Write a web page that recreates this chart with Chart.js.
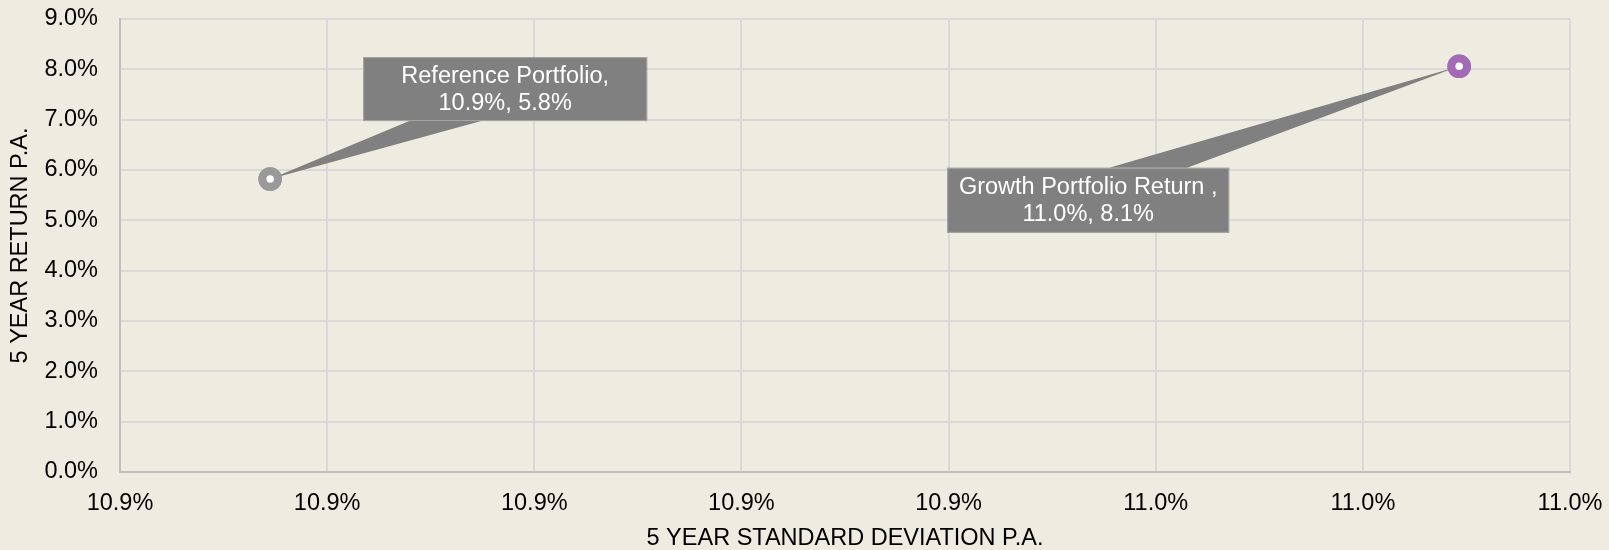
<!DOCTYPE html>
<html>
<head>
<meta charset="utf-8">
<script src="https://cdn.jsdelivr.net/npm/chart.js@4/dist/chart.umd.min.js"></script>
<style>
  body { margin: 0; background: #EEEBE0; }
  #wrap { width: 1609px; height: 550px; position: relative; }
</style>
</head>
<body>
<div id="wrap"><canvas id="chart"></canvas></div>
<script>
// portfolio data
const seriesNames = ['Reference Portfolio,', 'Growth Portfolio Return ,'];
const stdDev = [10.8745, 10.9893];   // 5 year standard deviation p.a. (%)
const returns = [5.82, 8.06];        // 5 year return p.a. (%)
const pointColors = ['#999999', '#A46AB6'];

const xMin = 10.86, xMax = 11.00, xStep = 0.02;
const yMin = 0, yMax = 9, yStep = 1;

// label box offsets relative to each point, and where the pointer meets the box
const callouts = [
  { dx: 235, dy: -90, w: 284, h: 64, side: 'bottom', b0: -96, b1: -24 },
  { dx: -371, dy: 134, w: 282, h: 65, side: 'top', b0: 21, b1: 99 }
];

const FONT = '"Liberation Sans", Arial, sans-serif';
const FONT_SIZE = 23.5;

const calloutPlugin = {
  id: 'callouts',
  afterDatasetsDraw(chart) {
    const ctx = chart.ctx;
    chart.data.datasets.forEach((ds, i) => {
      const pt = chart.getDatasetMeta(i).data[0];
      const c = callouts[i];
      const cx = pt.x + c.dx, cy = pt.y + c.dy;
      const left = cx - c.w / 2, top = cy - c.h / 2;
      const edgeY = c.side === 'bottom' ? top + c.h : top;
      ctx.save();
      ctx.fillStyle = '#808080';
      ctx.beginPath();
      ctx.moveTo(pt.x, pt.y);
      ctx.lineTo(cx + c.b0, edgeY);
      ctx.lineTo(cx + c.b1, edgeY);
      ctx.closePath();
      ctx.fill();
      ctx.fillRect(left, top, c.w, c.h);
      ctx.strokeStyle = '#A6A6A6';
      ctx.lineWidth = 1;
      ctx.strokeRect(left + 0.5, top + 0.5, c.w - 1, c.h - 1);
      ctx.fillStyle = '#FFFFFF';
      ctx.font = FONT_SIZE + 'px ' + FONT;
      ctx.textAlign = 'center';
      ctx.textBaseline = 'middle';
      const v = ds.data[0];
      ctx.fillText(ds.label, cx, cy - 13);
      ctx.fillText(v.x.toFixed(1) + '%, ' + v.y.toFixed(1) + '%', cx, cy + 14);
      // redraw point on top of pointer
      pt.draw(ctx, chart.chartArea);
      ctx.restore();
    });
  }
};

new Chart(document.getElementById('chart'), {
  type: 'scatter',
  data: {
    datasets: seriesNames.map((name, i) => ({
      label: name,
      data: [{ x: stdDev[i], y: returns[i] }],
      pointRadius: 7.8,
      pointHoverRadius: 7.8,
      borderWidth: 8,
      pointBorderColor: pointColors[i],
      pointBackgroundColor: '#FFFFFF'
    }))
  },
  options: {
    responsive: true,
    maintainAspectRatio: false,
    animation: false,
    layout: { padding: { top: 19, right: 39, left: 0, bottom: 0 } },
    plugins: {
      legend: { display: false },
      tooltip: { enabled: false }
    },
    scales: {
      x: {
        type: 'linear',
        min: xMin,
        max: xMax,
        afterFit(scale) {
          scale.height = 78;
          scale.paddingLeft = 0;
          scale.paddingRight = 0;
        },
        ticks: {
          stepSize: xStep,
          padding: 17,
          color: '#000000',
          font: { family: FONT, size: FONT_SIZE },
          callback: v => v.toFixed(1) + '%'
        },
        grid: { color: '#D9D9D9', lineWidth: 2, drawTicks: false },
        border: { color: '#BFBFBF', width: 2 },
        title: {
          display: true,
          text: '5 YEAR STANDARD DEVIATION P.A.',
          color: '#000000',
          font: { family: FONT, size: FONT_SIZE, lineHeight: 1 },
          padding: { top: 0, bottom: 0 }
        }
      },
      y: {
        min: yMin,
        max: yMax,
        afterFit(scale) {
          scale.width = 120;
          scale.paddingTop = 0;
          scale.paddingBottom = 0;
        },
        ticks: {
          stepSize: yStep,
          padding: 22,
          color: '#000000',
          font: { family: FONT, size: FONT_SIZE },
          callback: v => v.toFixed(1) + '%'
        },
        grid: { color: '#D9D9D9', lineWidth: 2, drawTicks: false },
        border: { color: '#BFBFBF', width: 2 },
        title: {
          display: true,
          text: '5 YEAR RETURN P.A.',
          color: '#000000',
          font: { family: FONT, size: FONT_SIZE, lineHeight: 1 },
          padding: { top: 9, bottom: 0 }
        }
      }
    }
  },
  plugins: [calloutPlugin]
});
</script>
</body>
</html>
